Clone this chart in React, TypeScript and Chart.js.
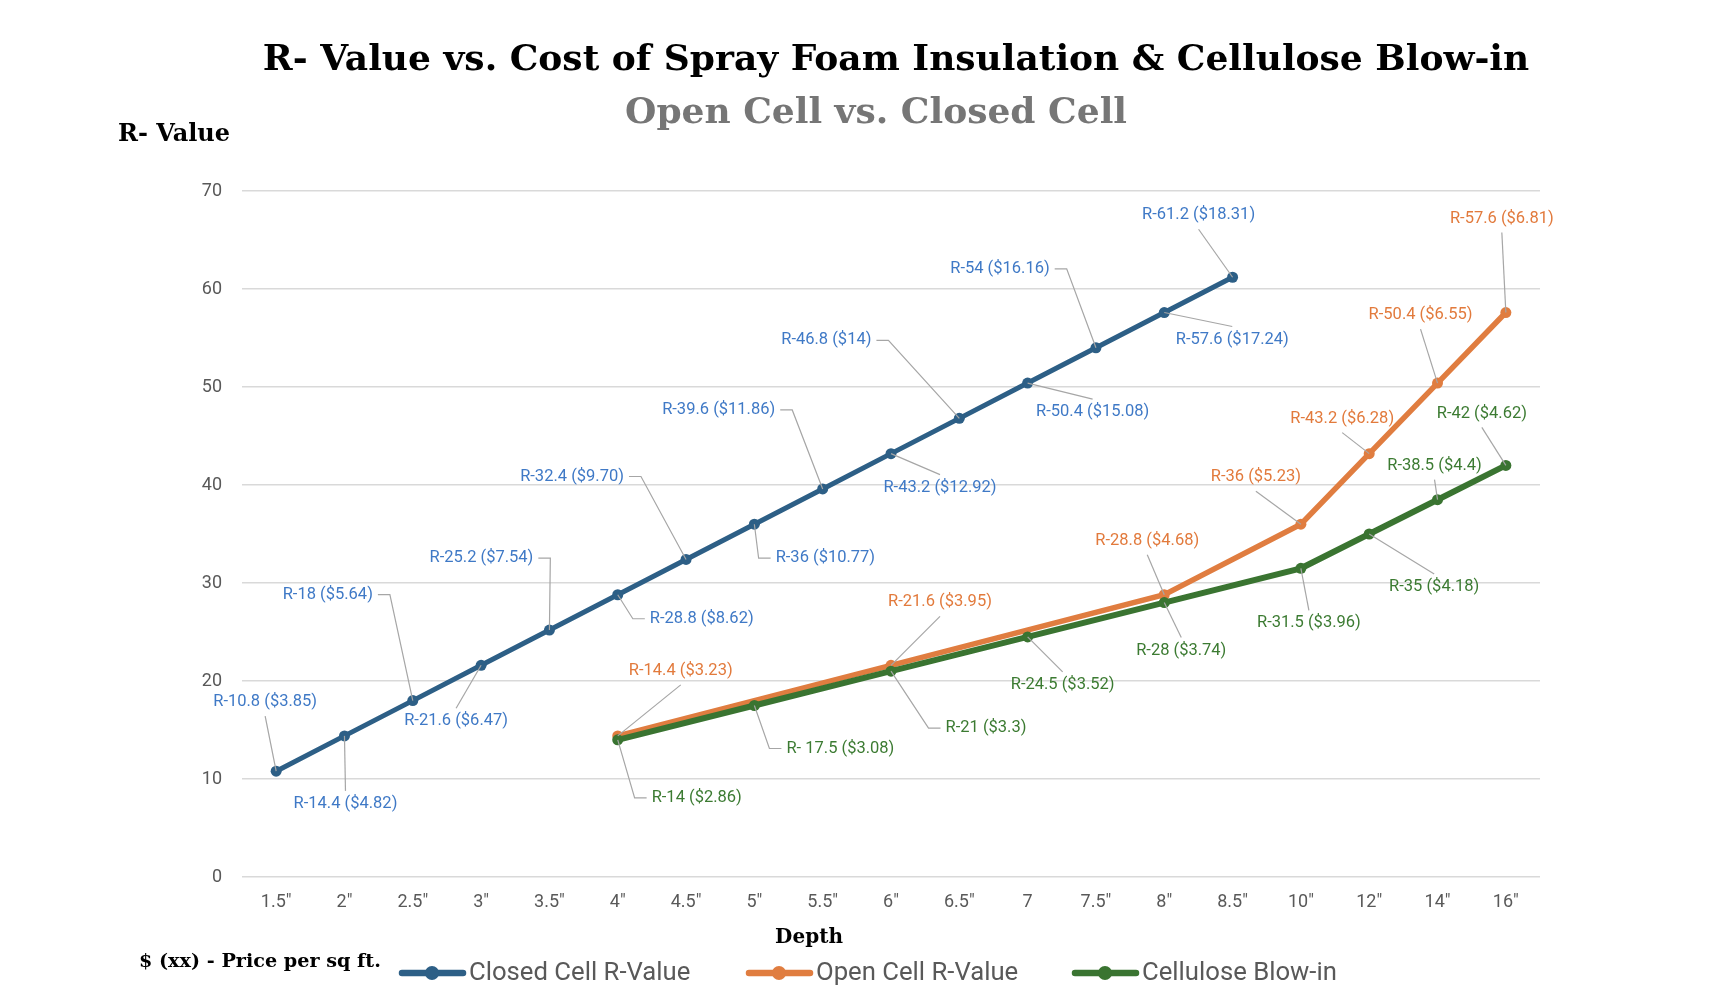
import React, { useEffect, useRef } from "react";
import { Chart, registerables } from "chart.js";

Chart.register(...registerables);

// ---- data ---------------------------------------------------------------

const depths = ['1.5"', '2"', '2.5"', '3"', '3.5"', '4"', '4.5"', '5"', '5.5"', '6"', '6.5"', '7', '7.5"', '8"', '8.5"', '10"', '12"', '14"', '16"'];

const closedCellR = [10.8, 14.4, 18, 21.6, 25.2, 28.8, 32.4, 36, 39.6, 43.2, 46.8, 50.4, 54, 57.6, 61.2, null, null, null, null];
const closedCellPrice = ["3.85", "4.82", "5.64", "6.47", "7.54", "8.62", "9.70", "10.77", "11.86", "12.92", "14", "15.08", "16.16", "17.24", "18.31", null, null, null, null];

const openCellR = [null, null, null, null, null, 14.4, null, null, null, 21.6, null, null, null, 28.8, null, 36, 43.2, 50.4, 57.6];
const openCellPrice = [null, null, null, null, null, "3.23", null, null, null, "3.95", null, null, null, "4.68", null, "5.23", "6.28", "6.55", "6.81"];

const celluloseR = [null, null, null, null, null, 14, null, 17.5, null, 21, null, 24.5, null, 28, null, 31.5, 35, 38.5, 42];
const cellulosePrice = [null, null, null, null, null, "2.86", null, "3.08", null, "3.3", null, "3.52", null, "3.74", null, "3.96", "4.18", "4.4", "4.62"];

const yTicks = { min: 0, max: 70, step: 10 };

// ---- label placement (offset of label centre from its point, and the side the leader joins) ----

type Side = "t" | "b" | "l" | "r";
type Place = [number, number, Side] | null;

const closedPlace: Place[] = [
  [-11, -71, "b"], [1, 66, "t"], [-85, -108, "r"], [-25, 54, "t"], [-68, -74, "r"],
  [84, 22, "l"], [-114, -85, "r"], [71, 32, "l"], [-104, -81, "r"], [49, 32, "t"],
  [-133, -80, "r"], [65, 27, "t"], [-96, -81, "r"], [68, 25, "t"], [-34, -64, "b"],
  null, null, null, null,
];
const openPlace: Place[] = [
  null, null, null, null, null, [63, -67, "b"], null, null, null, [49, -65, "b"],
  null, null, null, [-17, -56, "b"], null, [-45, -49, "b"], [-27, -37, "b"], [-17, -70, "b"], [-4, -96, "b"],
];
const cellulosePlace: Place[] = [
  null, null, null, null, null, [79, 56, "l"], null, [86, 41, "l"], null, [95, 55, "l"],
  null, [35, 46, "t"], null, [17, 46, "t"], null, [8, 53, "t"], [65, 51, "t"], [-3, -36, "b"], [-24, -54, "b"],
];

// ---- styling ------------------------------------------------------------

const TICK_COLOR = "#595959";
const LEADER_COLOR = "#a6a6a6";
const LABEL_FONT = "16.5px Roboto";
const SERIF = '"DejaVu Serif", "Liberation Serif", serif';

const series = [
  {
    name: "Closed Cell R-Value",
    values: closedCellR,
    prices: closedCellPrice,
    place: closedPlace,
    line: "#2d5f86",
    text: "#3f79c6",
    width: 5,
    spaced: -1,
  },
  {
    name: "Open Cell R-Value",
    values: openCellR,
    prices: openCellPrice,
    place: openPlace,
    line: "#e07d40",
    text: "#e27a3c",
    width: 5.5,
    spaced: -1,
  },
  {
    name: "Cellulose Blow-in",
    values: celluloseR,
    prices: cellulosePrice,
    place: cellulosePlace,
    line: "#3a7431",
    text: "#3c7b32",
    width: 6,
    spaced: depths.indexOf('5"'),
  },
];

const labelText = (s: (typeof series)[number], i: number) =>
  `R-${i === s.spaced ? " " : ""}${s.values[i]} ($${s.prices[i]})`;

// Data labels with Excel-style leader lines
const pointLabels = {
  id: "pointLabels",
  afterDatasetsDraw(chart: any) {
    const ctx: CanvasRenderingContext2D = chart.ctx;
    ctx.save();
    ctx.font = LABEL_FONT;
    series.forEach((s, di) => {
      const meta = chart.getDatasetMeta(di);
      meta.data.forEach((pt: any, i: number) => {
        const p = s.place[i];
        if (s.values[i] == null || !p) return;
        const text = labelText(s, i);
        const w = ctx.measureText(text).width;
        const cx = pt.x + p[0];
        const cy = pt.y + p[1] + 2;
        ctx.strokeStyle = LEADER_COLOR;
        ctx.lineWidth = 1.2;
        ctx.beginPath();
        if (p[2] === "t") {
          ctx.moveTo(cx, cy - 13);
          ctx.lineTo(pt.x, pt.y);
        } else if (p[2] === "b") {
          ctx.moveTo(cx, cy + 14);
          ctx.lineTo(pt.x, pt.y);
        } else if (p[2] === "r") {
          ctx.moveTo(cx + w / 2 + 5, cy);
          ctx.lineTo(cx + w / 2 + 17, cy);
          ctx.lineTo(pt.x, pt.y);
        } else {
          ctx.moveTo(cx - w / 2 - 5, cy);
          ctx.lineTo(cx - w / 2 - 17, cy);
          ctx.lineTo(pt.x, pt.y);
        }
        ctx.stroke();
        ctx.fillStyle = s.text;
        ctx.textAlign = "center";
        ctx.textBaseline = "middle";
        ctx.fillText(text, cx, cy);
      });
    });
    ctx.restore();
  },
};

// Titles, axis captions, footnote and legend
const decorations = {
  id: "decorations",
  afterDraw(chart: any) {
    const ctx: CanvasRenderingContext2D = chart.ctx;
    ctx.save();
    ctx.textBaseline = "alphabetic";

    ctx.fillStyle = "#000000";
    ctx.textAlign = "center";
    ctx.font = `bold 36px ${SERIF}`;
    ctx.fillText("R- Value vs. Cost of Spray Foam Insulation & Cellulose Blow-in", 896, 70);

    ctx.fillStyle = "#767676";
    ctx.font = `bold 36px ${SERIF}`;
    ctx.fillText("Open Cell vs. Closed Cell", 876, 123);

    ctx.fillStyle = "#000000";
    ctx.textAlign = "left";
    ctx.font = `bold 24px ${SERIF}`;
    ctx.fillText("R- Value", 118, 141);

    ctx.textAlign = "center";
    ctx.font = `bold 20px ${SERIF}`;
    ctx.fillText("Depth", 809, 943);

    ctx.textAlign = "left";
    ctx.font = `bold 19.2px ${SERIF}`;
    ctx.fillText("$ (xx) - Price per sq ft.", 139, 967);

    const legendX = [399, 746, 1072];
    const y = 973;
    series.forEach((s, i) => {
      const x0 = legendX[i];
      ctx.strokeStyle = s.line;
      ctx.lineWidth = 6.5;
      ctx.lineCap = "round";
      ctx.beginPath();
      ctx.moveTo(x0 + 3, y);
      ctx.lineTo(x0 + 64, y);
      ctx.stroke();
      ctx.fillStyle = s.line;
      ctx.beginPath();
      ctx.arc(x0 + 33, y, 7, 0, Math.PI * 2);
      ctx.fill();
      ctx.fillStyle = TICK_COLOR;
      ctx.textBaseline = "middle";
      ctx.font = "25.7px Roboto";
      ctx.fillText(s.name, x0 + 70, y + 1);
      ctx.textBaseline = "alphabetic";
    });
    ctx.restore();
  },
};

export default function App() {
  const ref = useRef<HTMLCanvasElement | null>(null);

  useEffect(() => {
    if (!ref.current) return;
    // draw order: cellulose on top, closed cell at the bottom
    const order = [2, 1, 0];
    const chart = new Chart(ref.current, {
      type: "line",
      data: {
        labels: depths,
        datasets: series.map((s, i) => ({
          label: s.name,
          data: s.values,
          borderColor: s.line,
          backgroundColor: s.line,
          borderWidth: s.width,
          pointRadius: 5.5,
          pointBorderWidth: 0,
          pointBackgroundColor: s.line,
          tension: 0,
          spanGaps: true,
          order: order[i],
        })),
      },
      options: {
        responsive: false,
        animation: false,
        devicePixelRatio: 1,
        layout: { padding: { left: 182, right: 190, top: 191, bottom: 71 } },
        plugins: {
          legend: { display: false },
          title: { display: false },
          tooltip: { enabled: false },
        },
        scales: {
          x: {
            offset: true,
            grid: { display: false },
            border: { display: false },
            ticks: {
              color: TICK_COLOR,
              font: { family: "Roboto", size: 18 },
              padding: 7,
              autoSkip: false,
              maxRotation: 0,
            },
            afterFit: (s: any) => {
              s.height = 60;
            },
          },
          y: {
            min: yTicks.min,
            max: yTicks.max,
            ticks: {
              stepSize: yTicks.step,
              color: TICK_COLOR,
              font: { family: "Roboto", size: 18 },
              padding: 20,
            },
            grid: { color: "#d9d9d9", lineWidth: 1.5, drawTicks: false },
            border: { display: false },
            afterFit: (s: any) => {
              s.width = 60;
            },
          },
        },
      },
      plugins: [pointLabels, decorations],
    });
    return () => chart.destroy();
  }, []);

  return (
    <div style={{ position: "fixed", left: 0, top: 0, width: 1730, height: 1008, background: "#ffffff" }}>
      <canvas ref={ref} width={1730} height={1008} style={{ width: 1730, height: 1008, display: "block" }} />
    </div>
  );
}
